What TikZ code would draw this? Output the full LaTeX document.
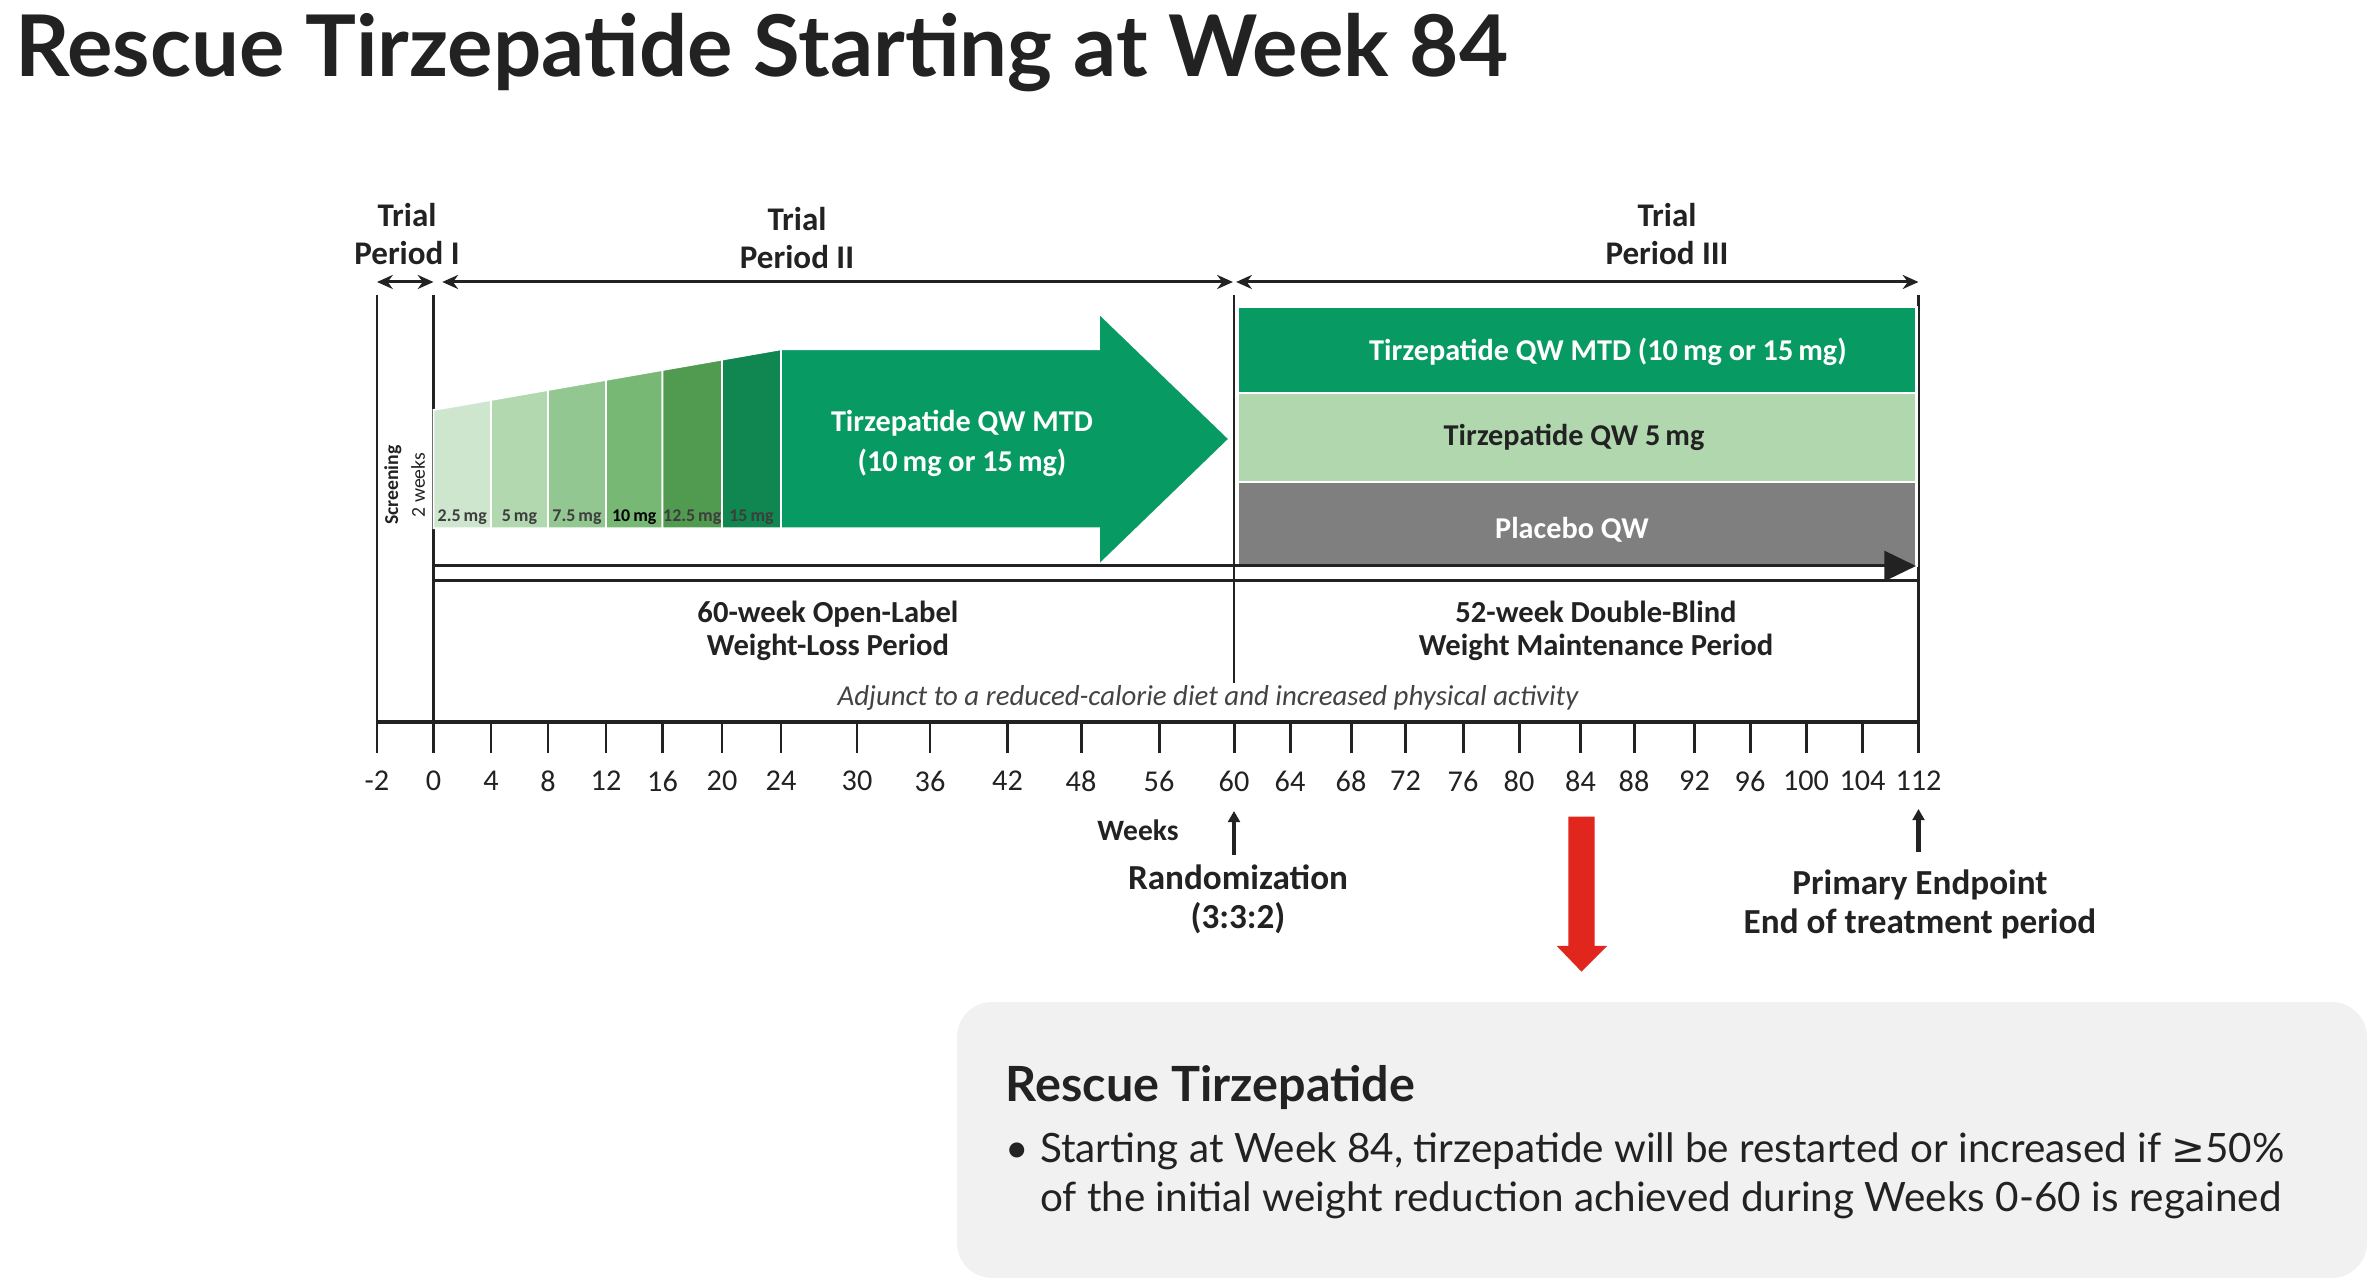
\documentclass[tikz,border=0pt]{standalone}
\usepackage{fontspec}
\setmainfont{Carlito}
\newfontfamily\latofont{Lato}
\newfontfamily\symfont{DejaVu Sans}
\usetikzlibrary{arrows.meta,positioning}

\definecolor{ink}{HTML}{222222}
\definecolor{dosegray}{HTML}{3D3D3D}
\definecolor{tzgreen}{HTML}{089A63}
\definecolor{tzlight}{HTML}{B0D7AE}
\definecolor{placebogray}{HTML}{7F7F7F}
\definecolor{rescuered}{HTML}{E0261D}
\definecolor{boxgray}{HTML}{F1F1F1}
\definecolor{rampa}{HTML}{CFE6CE}
\definecolor{rampb}{HTML}{B1D8AF}
\definecolor{rampc}{HTML}{92C791}
\definecolor{rampd}{HTML}{77B875}
\definecolor{rampe}{HTML}{509B50}
\definecolor{rampf}{HTML}{108650}

\tikzset{
  period/.style={font=\fontsize{9.4}{10.8}\selectfont\bfseries, align=center, text=ink, inner sep=0pt},
  bandtext/.style={font=\fontsize{8.6}{11.4}\selectfont\bfseries, align=center, inner sep=0pt},
  phase/.style={font=\fontsize{8.7}{9.4}\selectfont\bfseries, align=center, text=ink, inner sep=0pt},
  dose/.style={font=\fontsize{5.1}{6}\selectfont\bfseries, inner sep=0pt},
  weeklbl/.style={font=\fontsize{8.6}{9}\selectfont, text=ink, inner sep=0pt},
  note/.style={font=\fontsize{10}{11.1}\selectfont\bfseries, align=center, text=ink, inner sep=0pt},
  boxtext/.style={font=\latofont\fontsize{11.5}{12}\selectfont, text=ink, anchor=base west, inner sep=0pt},
  span/.style={<->, >={Stealth[length=4.5pt,width=4pt]}},
  upmark/.style={line width=1.2pt, -{Triangle[length=3.2pt,width=3.4pt]}},
}

\begin{document}
\begin{tikzpicture}[x=0.01cm, y=-0.01cm, line width=0.85pt, ink]
\useasboundingbox (0,0) rectangle (2374,1286);

\node[anchor=base west, inner sep=0pt, font=\latofont\fontsize{24.2}{26}\selectfont\bfseries] (title) at (14,77) {Rescue Tirzepatide Starting at Week 84};

% timeline
\coordinate (top) at (0,295);
\coordinate (pa) at (0,282);
\coordinate (run) at (0,566);
\coordinate (base) at (0,580.7);
\foreach \wk/\px [count=\i] in {-2/377, 0/433.5, 4/491, 8/548, 12/606, 16/662.5, 20/722, 24/781, 30/857, 36/930, 42/1007.5, 48/1081, 56/1159, 60/1234, 64/1290, 68/1351, 72/1405.5, 76/1463, 80/1519, 84/1580.5, 88/1634, 92/1694.5, 96/1750, 100/1806, 104/1862.5, 112/1918.5} {
  \coordinate (t\i) at (\px,722);
  \draw (t\i) -- ++(0,31);
  \node[weeklbl] (l\i) at (\px,781) {\wk};
}
\draw[line width=1pt] (t1) -- (t26);
\draw (t1) -- (t1 |- top);
\draw (t2) -- (t2 |- top);
\draw (t26) -- (t26 |- top);
\draw[line width=0.6pt] (t14 |- top) -- ++(0,388);
\draw (t2 |- base) -- (t26 |- base);

% trial periods
\draw[span] (t1 |- pa) -- (t2 |- pa);
\draw[span, shorten <=2.5pt, shorten >=0.3pt] (t2 |- pa) -- (t14 |- pa);
\draw[span, shorten <=0.6pt] (t14 |- pa) -- (t26 |- pa);
\node[period] (p1) at (407,234) {Trial\\Period I};
\node[period] (p2) at (797,238) {Trial\\Period II};
\node[period] (p3) at (1667,234) {Trial\\Period III};

% dose escalation
\foreach \a/\b/\c/\d/\tc [count=\i] in {433.5/491/rampa/2.5/dosegray, 491/548/rampb/5/dosegray, 548/606/rampc/7.5/dosegray, 606/662.5/rampd/10/black, 662.5/722/rampe/12.5/dosegray, 722/781/rampf/15/dosegray} {
  \pgfmathsetmacro{\ya}{410-0.1747*(\a-433.5)}
  \pgfmathsetmacro{\yb}{410-0.1747*(\b-433.5)}
  \filldraw[fill=\c, draw=white, line width=0.5pt] (\a,528.3) -- (\a,\ya) -- (\b,\yb) -- (\b,528.3) -- cycle;
  \node[dose, text=\tc] (d\i) at ({(\a+\b)/2},517) {\d\,mg};
}
\filldraw[fill=tzgreen, draw=white, line width=0.5pt] (781,349.3) -- (1099,349.3) -- (1099,313.3) -- (1229.3,439) -- (1099,565) -- (1099,528.3) -- (781,528.3) -- cycle;
\node[bandtext, text=white] (mtd) at (962,443) {Tirzepatide QW MTD\\(10\,mg or 15\,mg)};

\node[rotate=90, inner sep=0pt, font=\fontsize{5.6}{6}\selectfont\bfseries] (scr) at (393,485) {Screening};
\node[rotate=90, inner sep=0pt, font=\fontsize{5.6}{6}\selectfont] (twow) at (418,485) {2 weeks};

% randomised arms
\filldraw[fill=tzgreen, draw=white, line width=0.6pt] (1237.5,306.7) rectangle (1916.5,393.3);
\filldraw[fill=tzlight, draw=white, line width=0.6pt] (1237.5,393.3) rectangle (1916.5,481.7);
\filldraw[fill=placebogray, draw=white, line width=0.6pt] (1237.5,481.7) rectangle (1916.5,566);
\node[bandtext, text=white] (arm1) at (1608,352) {Tirzepatide QW MTD (10\,mg or 15\,mg)};
\node[bandtext, text=ink] (arm2) at (1574,437) {Tirzepatide QW 5\,mg};
\node[bandtext, text=white] (arm3) at (1572,530) {Placebo QW};
\coordinate (runend) at (1916,566);
\draw[-{Triangle[length=9pt,width=8.5pt]}] (t2 |- run) -- (runend);

\node[phase] (ol) at (828,631) {60-week Open-Label\\Weight-Loss Period};
\node[phase] (db) at (1596,631) {52-week Double-Blind\\Weight Maintenance Period};
\node[inner sep=0pt, text=ink!85, font=\fontsize{8.2}{9}\selectfont\itshape] (adj) at (1208,698) {Adjunct to a reduced-calorie diet and increased physical activity};

% below the axis
\node[inner sep=0pt, font=\fontsize{8.4}{9}\selectfont\bfseries] (wks) at (1138,830) {Weeks};
\coordinate (r0) at (1234,855);
\coordinate (r1) at (1234,811);
\draw[upmark] (r0) -- (r1);
\node[note] (rand) at (1238,899) {Randomization\\(3:3:2)};
\coordinate (e0) at (1918.5,852);
\coordinate (e1) at (1918.5,809);
\draw[upmark] (e0) -- (e1);
\node[note] (prim) at (1920,904) {Primary Endpoint\\End of treatment period};
\fill[rescuered] (1568.4,816.7) -- (1594.5,816.7) -- (1594.5,946) -- (1607,946) -- (1581.5,971.7) -- (1556.8,946) -- (1568.4,946) -- cycle;

% rescue box
\fill[boxgray, rounded corners=10pt] (957,1002) rectangle (2367,1278);
\node[anchor=base west, inner sep=0pt, text=ink, font=\latofont\fontsize{13.8}{15}\selectfont\bfseries] (rt) at (1004.5,1102) {Rescue Tirzepatide};
\node[boxtext] (bul) at (1004,1163) {•};
\node[boxtext] (b1) at (1038.6,1163) {Starting at Week 84, tirzepatide will be restarted or increased if {\symfont ≥}50\%};
\node[boxtext] (b2) at (1038.6,1212) {of the initial weight reduction achieved during Weeks 0-60 is regained};
\end{tikzpicture}
\end{document}
